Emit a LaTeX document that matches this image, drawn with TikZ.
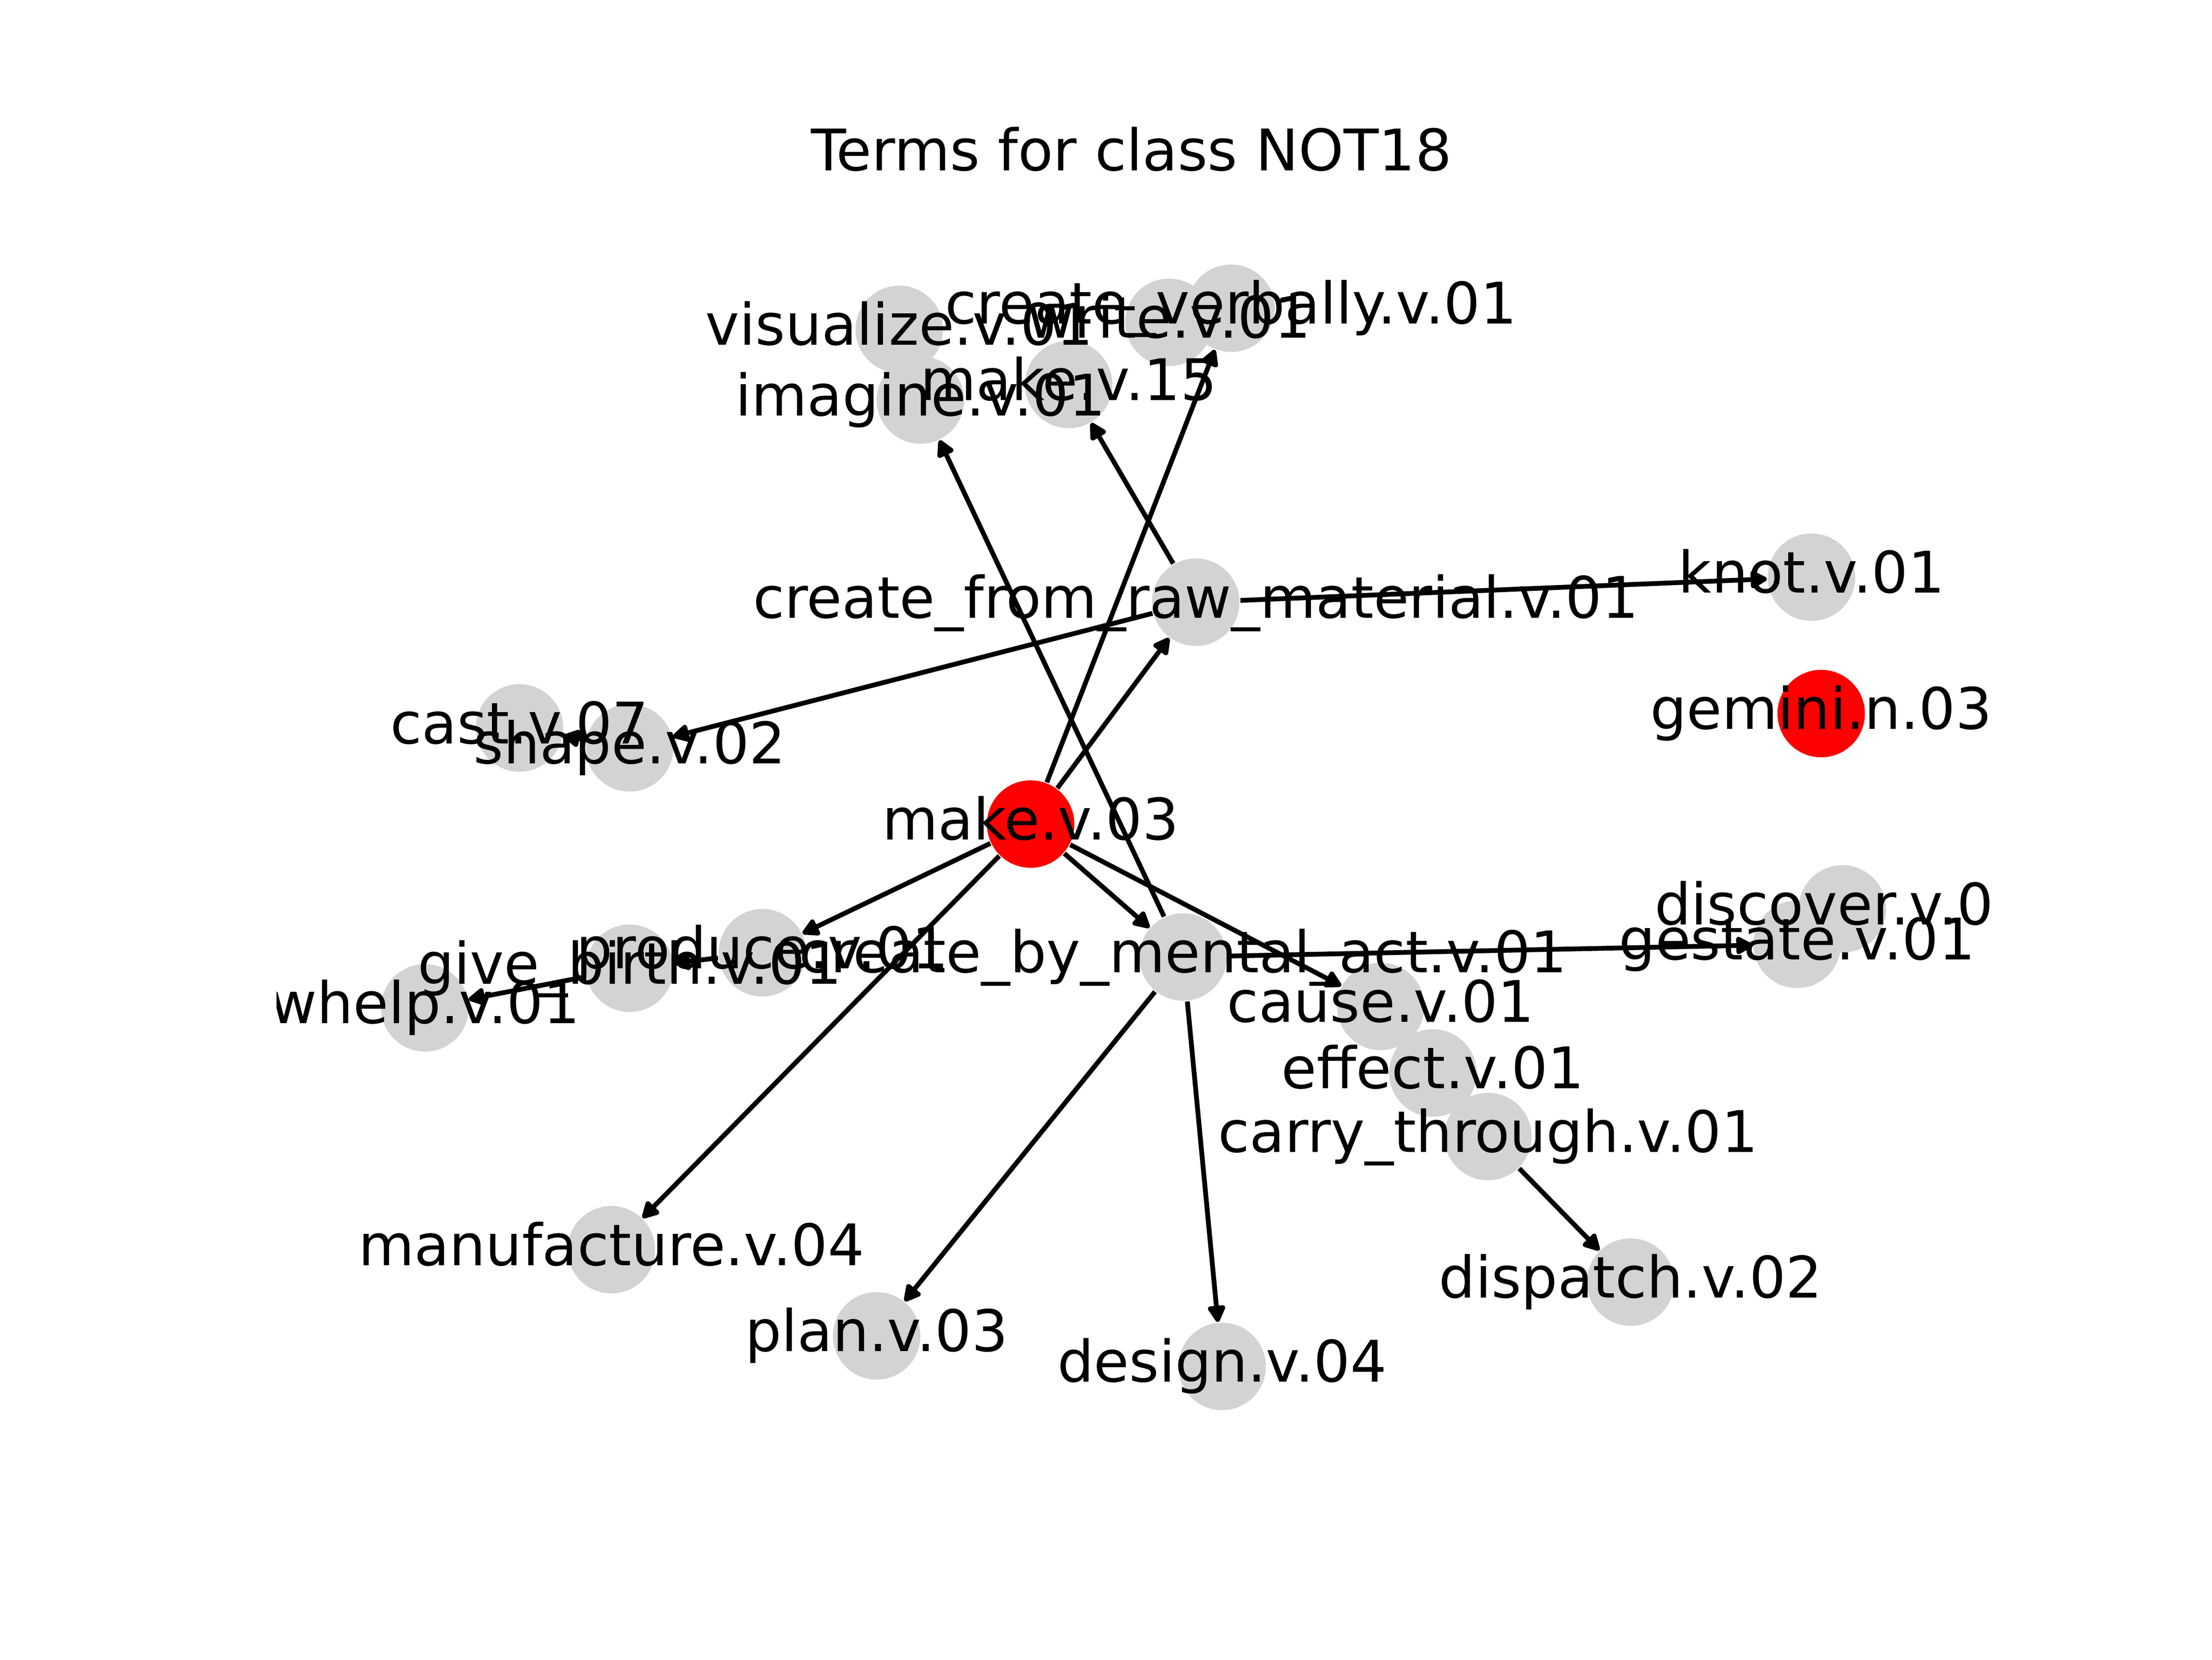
\documentclass[tikz,border=0pt]{standalone}
\usepackage{fontspec}
\setmainfont{DejaVu Sans}
\usetikzlibrary{arrows.meta,backgrounds}
\definecolor{termgray}{HTML}{D3D3D3}

\begin{document}
\begin{tikzpicture}
  [x=0.010354cm,y=-0.010354cm,
   every node/.style={circle,fill=termgray,minimum size=18.3pt,inner sep=0pt},
   seed/.style={fill=red},
   lbl/.style={rectangle,fill=none,inner sep=0pt,font=\fontsize{12}{14}\selectfont,
     text height=9.12pt,text depth=2.6pt},
   hyp/.style={-{Triangle[length=4pt,width=4pt,round]},line width=1pt}]

  \useasboundingbox (0,0) rectangle (1570,1177.5);

  \node (title) [lbl,anchor=base] at (803,121) {Terms for class NOT18};

  \node (crverb)   at (873.7,218.7) {};
  \node (write)    at (829.7,228.7) {};
  \node (visual)   at (638.3,233.7) {};
  \node (mk15)     at (758.5,272.8) {};
  \node (imagine)  at (653.3,283.8) {};
  \node (cfrm)     at (848.7,427.3) {};
  \node (knot)     at (1285.7,409.5) {};
  \node (gemini)   [seed] at (1292.6,506.3) {};
  \node (cast)     at (368.7,516.5) {};
  \node (shape)    at (446.9,530.6) {};
  \node (mk03)     [seed] at (731.5,584.7) {};
  \node (produce)  at (541.1,676) {};
  \node (gbirth)   at (446.9,687) {};
  \node (whelp)    at (301.6,715.1) {};
  \node (cbma)     at (839.7,679) {};
  \node (discover) at (1307.6,644.9) {};
  \node (gestate)  at (1275.5,670) {};
  \node (cause)    at (980,714.1) {};
  \node (effect)   at (1017,761.3) {};
  \node (carry)    at (1056.1,806.4) {};
  \node (manuf)    at (433.9,886.7) {};
  \node (dispatch) at (1157.3,909.7) {};
  \node (plan)     at (622.2,947.8) {};
  \node (design)   at (867.4,969.5) {};

  % edges sit under the circles
  \begin{scope}[on background layer]
    \draw[hyp] (mk03) -- (crverb);
    \draw[hyp] (mk03) -- (cfrm);
    \draw[hyp] (mk03) -- (produce);
    \draw[hyp] (mk03) -- (cbma);
    \draw[hyp] (mk03) -- (cause);
    \draw[hyp] (mk03) -- (manuf);
    \draw[hyp] (cfrm) -- (mk15);
    \draw[hyp] (cfrm) -- (knot);
    \draw[hyp] (cfrm) -- (shape);
    \draw[hyp] (shape) -- (cast);
    \draw[hyp] (cbma) -- (imagine);
    \draw[hyp] (cbma) -- (plan);
    \draw[hyp] (cbma) -- (design);
    \draw[hyp] (cbma) -- (gestate);
    \draw[hyp] (produce) -- (gbirth);
    \draw[hyp] (gbirth) -- (whelp);
    \draw[hyp] (carry) -- (dispatch);
  \end{scope}

  % labels on top, cut at the axes box
  \begin{scope}
    \clip (196.25,141.3) rectangle (1413,1048);
    \node[lbl] (crverb-l)   at (crverb)   {create\_verbally.v.01};
    \node[lbl] (write-l)    at (write)    {write.v.01};
    \node[lbl] (visual-l)   at (visual)   {visualize.v.01};
    \node[lbl] (mk15-l)     at (mk15)     {make.v.15};
    \node[lbl] (imagine-l)  at (imagine)  {imagine.v.01};
    \node[lbl] (cfrm-l)     at (cfrm)     {create\_from\_raw\_material.v.01};
    \node[lbl] (knot-l)     at (knot)     {knot.v.01};
    \node[lbl] (gemini-l)   at (gemini)   {gemini.n.03};
    \node[lbl] (cast-l)     at (cast)     {cast.v.07};
    \node[lbl] (shape-l)    at (shape)    {shape.v.02};
    \node[lbl] (mk03-l)     at (mk03)     {make.v.03};
    \node[lbl] (produce-l)  at (produce)  {produce.v.01};
    \node[lbl] (gbirth-l)   at (gbirth)   {give\_birth.v.01};
    \node[lbl] (whelp-l)    at (whelp)    {whelp.v.01};
    \node[lbl] (cbma-l)     at (cbma)     {create\_by\_mental\_act.v.01};
    \node[lbl] (discover-l) at (discover) {discover.v.03};
    \node[lbl] (gestate-l)  at (gestate)  {gestate.v.01};
    \node[lbl] (cause-l)    at (cause)    {cause.v.01};
    \node[lbl] (effect-l)   at (effect)   {effect.v.01};
    \node[lbl] (carry-l)    at (carry)    {carry\_through.v.01};
    \node[lbl] (manuf-l)    at (manuf)    {manufacture.v.04};
    \node[lbl] (dispatch-l) at (dispatch) {dispatch.v.02};
    \node[lbl] (plan-l)     at (plan)     {plan.v.03};
    \node[lbl] (design-l)   at (design)   {design.v.04};
  \end{scope}

\end{tikzpicture}
\end{document}
